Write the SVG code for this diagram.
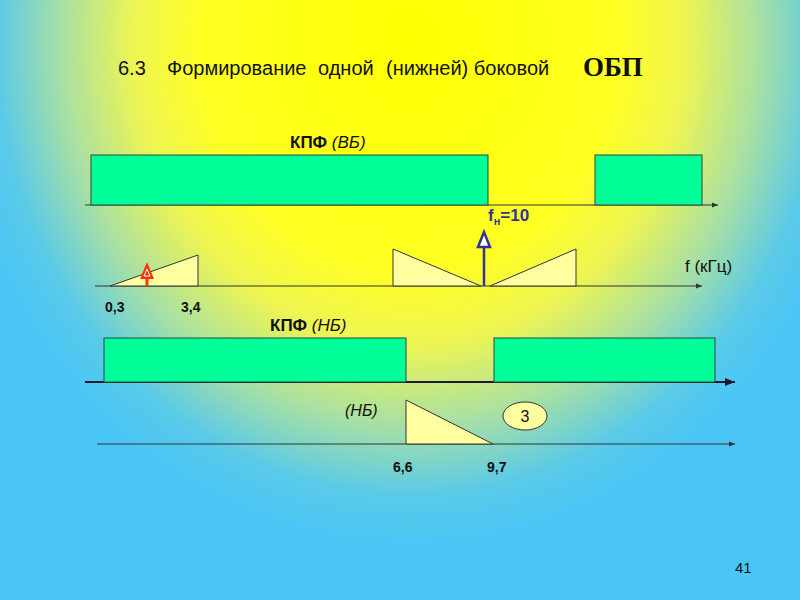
<svg xmlns="http://www.w3.org/2000/svg" width="800" height="600" viewBox="0 0 800 600">
<defs>
<radialGradient id="bg" gradientUnits="userSpaceOnUse" cx="410" cy="40" r="460" gradientTransform="translate(410,40) scale(1,1.1) translate(-410,-40)">
<stop offset="0" stop-color="#FFFF00"/>
<stop offset="0.45" stop-color="#FFFF22"/>
<stop offset="0.6" stop-color="#EEF552"/>
<stop offset="0.76" stop-color="#A8E0A4"/>
<stop offset="0.9" stop-color="#5ACAE8"/>
<stop offset="1" stop-color="#4AC6F6"/>
</radialGradient>
<marker id="ah" viewBox="0 0 10 10" refX="10" refY="5" markerWidth="6" markerHeight="6" orient="auto" markerUnits="userSpaceOnUse">
<path d="M0,1 L10,5 L0,9 z" fill="#333333"/>
</marker>
<marker id="ahb" viewBox="0 0 10 10" refX="10" refY="5" markerWidth="10" markerHeight="10" orient="auto" markerUnits="userSpaceOnUse">
<path d="M0,1 L10,5 L0,9 z" fill="#1a1a33"/>
</marker>
</defs>
<style>
.t{font-family:"Liberation Sans",Arial,sans-serif;fill:#111;}
.b{font-weight:bold;}
.i{font-style:italic;font-weight:normal;}
.band{fill:#00FF99;stroke:#2a4a3a;stroke-width:1;}
.tri{fill:#FFFFA0;stroke:#333;stroke-width:1;}
.ax{stroke:#333;stroke-width:1;fill:none;}
</style>
<rect width="800" height="600" fill="url(#bg)"/>
<g id="title">
<text class="t" y="75" font-size="20"><tspan x="118">6.3</tspan><tspan x="167">Формирование</tspan><tspan x="318">одной</tspan><tspan x="386">(нижней) боковой</tspan></text>
<text x="583" y="76" font-size="27" font-weight="bold" font-family="Liberation Serif,Times New Roman,serif" fill="#111">ОБП</text>
</g>
<g id="connectors">
<line class="ax" x1="85" y1="205" x2="718" y2="205" marker-end="url(#ah)"/>
<line class="ax" x1="95" y1="286" x2="702" y2="286" marker-end="url(#ah)"/>
<line x1="85" y1="382" x2="735" y2="382" stroke="#1a1a33" stroke-width="2" marker-end="url(#ahb)"/>
<line class="ax" x1="97" y1="444" x2="735" y2="444" marker-end="url(#ah)"/>
</g>
<g id="kpf-vb">
<text class="t b" x="290" y="148" font-size="17">КПФ <tspan class="i">(ВБ)</tspan></text>
<rect class="band" x="91" y="155" width="397" height="50"/>
<rect class="band" x="595" y="155" width="107" height="50"/>
</g>
<g id="spectrum1">
<polygon class="tri" points="110,286 198,286 198,255"/>
<polygon class="tri" points="393,249 393,286 481,286"/>
<polygon class="tri" points="490,286 576,249 576,286"/>
</g>
<g id="carrier">
<line x1="484" y1="286" x2="484" y2="246" stroke="#333399" stroke-width="2.5"/>
<polygon points="484,232 478,247 490,247" fill="#ffffff" stroke="#333399" stroke-width="2.5"/>
<text class="t b" x="488" y="221" font-size="17" style="fill:#333399">f<tspan font-size="11" dy="4">н</tspan><tspan dy="-4">=10</tspan></text>
</g>
<g id="red-arrow">
<line x1="147" y1="286" x2="147" y2="276" stroke="#ff3300" stroke-width="3"/>
<polygon points="147,262 140,279 154,279" fill="#ff3300"/>
<polygon points="147,269 144,276 150,276" fill="none" stroke="#ffffff" stroke-width="1"/>
</g>
<g id="labels1">
<text class="t" x="685" y="272" font-size="17">f (кГц)</text>
<text class="t b" x="105" y="312" font-size="14">0,3</text>
<text class="t b" x="181" y="312" font-size="14">3,4</text>
</g>
<g id="kpf-nb">
<text class="t b" x="270" y="331" font-size="17">КПФ <tspan class="i">(НБ)</tspan></text>
<rect class="band" x="104" y="338" width="302" height="44"/>
<rect class="band" x="494" y="338" width="221" height="44"/>
</g>
<g id="result">
<text class="t i" x="345" y="416" font-size="16">(НБ)</text>
<polygon class="tri" points="406,400 406,444 493,444"/>
<ellipse cx="525" cy="416" rx="22" ry="14" fill="#FFFFA0" stroke="#333" stroke-width="1"/>
<text class="t" x="525" y="422" font-size="16" text-anchor="middle">3</text>
<text class="t b" x="393" y="472" font-size="14">6,6</text>
<text class="t b" x="487" y="472" font-size="14">9,7</text>
</g>
<g id="page">
<text class="t" x="735" y="573" font-size="15" fill="#222">41</text>
</g>
</svg>
